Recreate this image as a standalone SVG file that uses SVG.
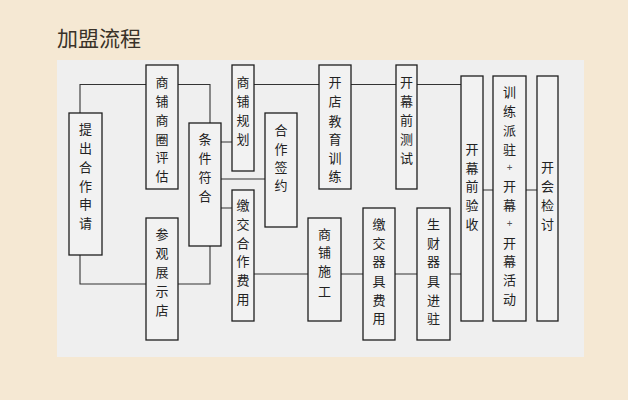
<svg xmlns="http://www.w3.org/2000/svg" width="628" height="400" viewBox="0 0 628 400">
<style>
.bx{fill:#f2f2f2;stroke:#1e1e1e;stroke-width:1.3}
.cn{fill:none;stroke:#333;stroke-width:1.1}
.t{font-family:"Noto Sans CJK SC","Noto Sans",sans-serif;font-size:13px;fill:#222;text-anchor:middle;dominant-baseline:central}
.p{font-family:"Noto Sans",sans-serif;font-size:10px;fill:#555;text-anchor:middle;dominant-baseline:central}
.title{font-family:"Noto Sans CJK SC",sans-serif;font-size:21px;fill:#3a3228}
</style>
<rect width="628" height="400" fill="#f5e8d3"/>
<rect x="57" y="60" width="527" height="297" fill="#efefef"/>
<text class="title" x="57" y="46">加盟流程</text>
<g id="connectors">
<path class="cn" d="M80,113V84.5H146M178,84.5H210V123M80,255V284H146M178,284H210V246"/>
<path class="cn" d="M221,142H232M221,179H265M221,208H232"/>
<path class="cn" d="M254,84.5H319M351,84.5H396M417,84.5H461"/>
<path class="cn" d="M254,274H308M341,274H363M395,274H417M450,274H461"/>
<path class="cn" d="M483,190H493M526,190H537"/>
</g>
<g id="n1"><rect class="bx" x="69" y="113" width="33" height="142"/>
<text class="t"><tspan x="85.5" y="128">提</tspan><tspan x="85.5" y="147">出</tspan><tspan x="85.5" y="166">合</tspan><tspan x="85.5" y="185">作</tspan><tspan x="85.5" y="203">申</tspan><tspan x="85.5" y="222">请</tspan></text></g>
<g id="n2"><rect class="bx" x="146" y="65" width="32" height="124"/>
<text class="t"><tspan x="162" y="81">商</tspan><tspan x="162" y="99.5">铺</tspan><tspan x="162" y="118.5">商</tspan><tspan x="162" y="137.5">圈</tspan><tspan x="162" y="156">评</tspan><tspan x="162" y="175">估</tspan></text></g>
<g id="n3"><rect class="bx" x="146" y="218" width="32" height="122"/>
<text class="t"><tspan x="162" y="233">参</tspan><tspan x="162" y="252">观</tspan><tspan x="162" y="271">展</tspan><tspan x="162" y="290">示</tspan><tspan x="162" y="308.5">店</tspan></text></g>
<g id="n4"><rect class="bx" x="189" y="123" width="32" height="123"/>
<text class="t"><tspan x="205" y="137.5">条</tspan><tspan x="205" y="156.5">件</tspan><tspan x="205" y="176">符</tspan><tspan x="205" y="195">合</tspan></text></g>
<g id="n5"><rect class="bx" x="232" y="65" width="22" height="106"/>
<text class="t"><tspan x="243" y="81">商</tspan><tspan x="243" y="100">铺</tspan><tspan x="243" y="119">规</tspan><tspan x="243" y="138">划</tspan></text></g>
<g id="n6"><rect class="bx" x="265" y="113" width="32" height="114"/>
<text class="t"><tspan x="281" y="128.5">合</tspan><tspan x="281" y="147.5">作</tspan><tspan x="281" y="166">签</tspan><tspan x="281" y="184">约</tspan></text></g>
<g id="n7"><rect class="bx" x="232" y="190" width="22" height="131"/>
<text class="t"><tspan x="243" y="203.5">缴</tspan><tspan x="243" y="222.5">交</tspan><tspan x="243" y="241.5">合</tspan><tspan x="243" y="260">作</tspan><tspan x="243" y="279">费</tspan><tspan x="243" y="298">用</tspan></text></g>
<g id="n8"><rect class="bx" x="319" y="65" width="32" height="124"/>
<text class="t"><tspan x="335" y="81">开</tspan><tspan x="335" y="100">店</tspan><tspan x="335" y="119.5">教</tspan><tspan x="335" y="138">育</tspan><tspan x="335" y="157">训</tspan><tspan x="335" y="175">练</tspan></text></g>
<g id="n9"><rect class="bx" x="396" y="65" width="21" height="124"/>
<text class="t"><tspan x="406.5" y="81">开</tspan><tspan x="406.5" y="100">幕</tspan><tspan x="406.5" y="119">前</tspan><tspan x="406.5" y="138">测</tspan><tspan x="406.5" y="157">试</tspan></text></g>
<g id="n10"><rect class="bx" x="308" y="218" width="33" height="103"/>
<text class="t"><tspan x="324.5" y="232.5">商</tspan><tspan x="324.5" y="251">铺</tspan><tspan x="324.5" y="270">施</tspan><tspan x="324.5" y="289.5">工</tspan></text></g>
<g id="n11"><rect class="bx" x="363" y="208" width="32" height="132"/>
<text class="t"><tspan x="379" y="223">缴</tspan><tspan x="379" y="242">交</tspan><tspan x="379" y="260">器</tspan><tspan x="379" y="279.5">具</tspan><tspan x="379" y="298.5">费</tspan><tspan x="379" y="317">用</tspan></text></g>
<g id="n12"><rect class="bx" x="417" y="208" width="33" height="132"/>
<text class="t"><tspan x="433.5" y="223">生</tspan><tspan x="433.5" y="242">财</tspan><tspan x="433.5" y="260">器</tspan><tspan x="433.5" y="279.5">具</tspan><tspan x="433.5" y="298.5">进</tspan><tspan x="433.5" y="317">驻</tspan></text></g>
<g id="n13"><rect class="bx" x="461" y="76" width="22" height="245"/>
<text class="t"><tspan x="472" y="147.5">开</tspan><tspan x="472" y="166.5">幕</tspan><tspan x="472" y="185">前</tspan><tspan x="472" y="204">验</tspan><tspan x="472" y="223">收</tspan></text></g>
<g id="n14"><rect class="bx" x="493" y="76" width="33" height="245"/>
<text class="t"><tspan x="509.5" y="91">训</tspan><tspan x="509.5" y="109.5">练</tspan><tspan x="509.5" y="128.5">派</tspan><tspan x="509.5" y="147.5">驻</tspan><tspan class="p" x="509.5" y="166.5">+</tspan><tspan x="509.5" y="185">开</tspan><tspan x="509.5" y="204">幕</tspan><tspan class="p" x="509.5" y="223">+</tspan><tspan x="509.5" y="242">开</tspan><tspan x="509.5" y="260">幕</tspan><tspan x="509.5" y="278.5">活</tspan><tspan x="509.5" y="297.5">动</tspan></text></g>
<g id="n15"><rect class="bx" x="537" y="76" width="21" height="245"/>
<text class="t"><tspan x="547.5" y="166">开</tspan><tspan x="547.5" y="185">会</tspan><tspan x="547.5" y="204">检</tspan><tspan x="547.5" y="223">讨</tspan></text></g>
</svg>
